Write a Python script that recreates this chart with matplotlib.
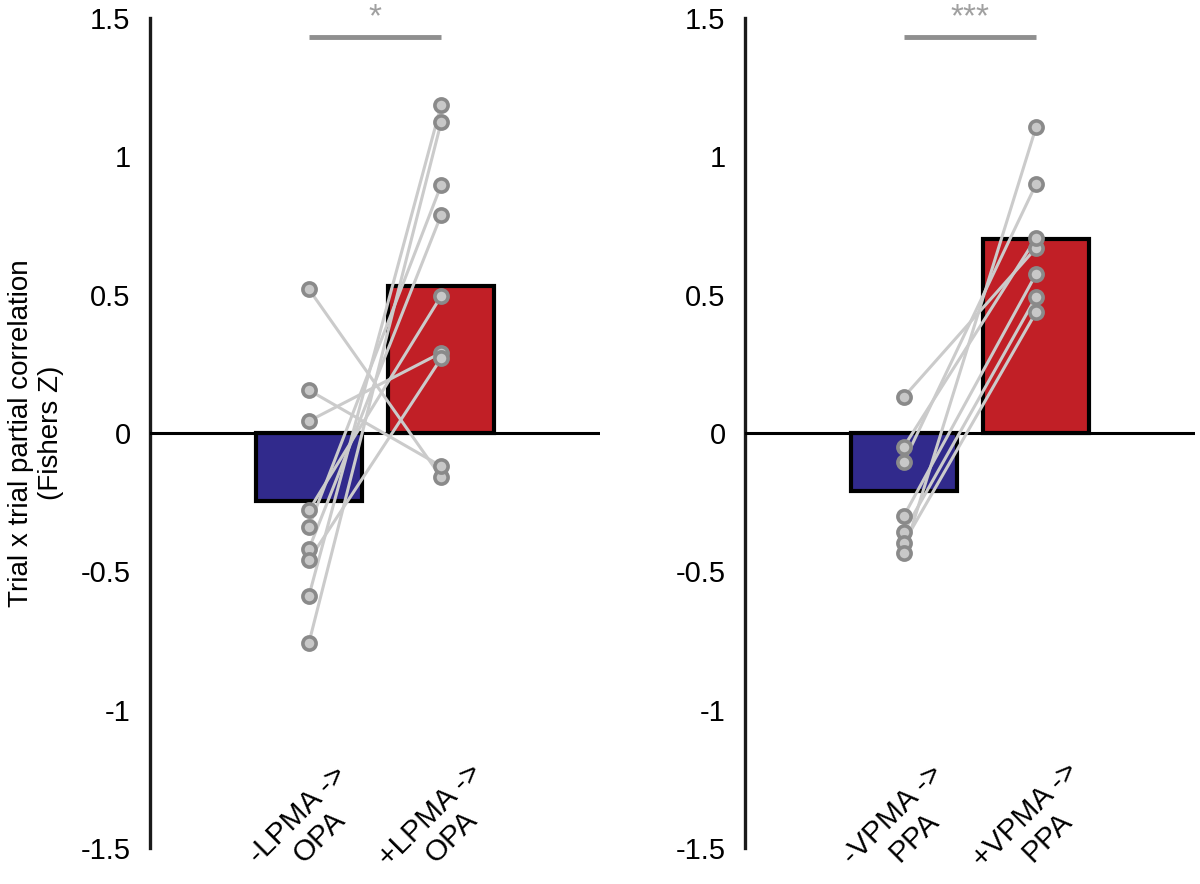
import matplotlib.pyplot as plt

plt.rcParams['font.family'] = ['Liberation Sans', 'DejaVu Sans']

# bar means
lpma_means = [-0.245, 0.53]
vpma_means = [-0.21, 0.70]

# individual subjects (minus, plus), paired by line
lpma_minus = [0.52, 0.155, 0.043, -0.28, -0.34, -0.42, -0.46, -0.59, -0.76]
lpma_plus = [-0.16, -0.12, 0.29, 0.495, 0.896, 0.788, 0.27, 1.185, 1.124]

vpma_minus = [0.13, -0.05, -0.105, -0.30, -0.358, -0.397, -0.434]
vpma_plus = [0.669, 0.705, 0.90, 0.575, 0.492, 0.437, 1.106]

lpma_labels = ['-LPMA ->\nOPA', '+LPMA ->\nOPA']
vpma_labels = ['-VPMA ->\nPPA', '+VPMA ->\nPPA']
stars = ['*', '***']

yticks = [-1.5, -1, -0.5, 0, 0.5, 1, 1.5]
ytick_labels = ['-1.5', '-1', '-0.5', '0', '0.5', '1', '1.5']

blue = '#312a8c'
red = '#c11f26'

fig = plt.figure(figsize=(12, 8.84), dpi=100)
ax1 = fig.add_axes([0.125, 0.0407, 0.375, 0.939])
ax2 = fig.add_axes([0.6208, 0.0407, 0.375, 0.939])

panels = [
    (ax1, lpma_means, lpma_minus, lpma_plus, lpma_labels, stars[0]),
    (ax2, vpma_means, vpma_minus, vpma_plus, vpma_labels, stars[1]),
]

for ax, means, minus, plus, labels, star in panels:
    pos = [1, 2]
    ax.bar(pos, means, width=0.8, color=[blue, red], edgecolor='black',
           linewidth=3, zorder=2)
    ax.axhline(0, color='black', linewidth=2.2, zorder=3)
    for a, b in zip(minus, plus):
        ax.plot(pos, [a, b], color='#cbcbcb', linewidth=2.2, zorder=4)
    for a, b in zip(minus, plus):
        ax.plot(pos, [a, b], linestyle='none', marker='o', markersize=9.5,
                markerfacecolor='#c8c8c8', markeredgecolor='#8a8a8a',
                markeredgewidth=2.6, zorder=5)

    # significance bar
    ax.plot(pos, [1.43, 1.43], color='#8f8f8f', linewidth=3.5,
            solid_capstyle='butt', clip_on=False, zorder=3)
    ax.text(1.5, 1.445, star, ha='center', va='bottom', fontsize=24,
            color='#a0a0a0', clip_on=False)

    # rotated category labels
    for p, lab in zip(pos, labels):
        ax.text(p, -1.42, lab, rotation=45, ha='center', va='center',
                multialignment='center', fontsize=21.5, linespacing=1.1)

    ax.set_xlim(-0.2, 3.2)
    ax.set_ylim(-1.5, 1.5)
    ax.set_xticks([])
    ax.set_yticks(yticks)
    ax.set_yticklabels(ytick_labels, fontsize=21)
    ax.tick_params(axis='y', length=0, pad=14)
    for s in ['top', 'right', 'bottom']:
        ax.spines[s].set_visible(False)
    ax.spines['left'].set_linewidth(2.4)
    ax.spines['left'].set_color('#1a1a1a')

ax1.set_ylabel('Trial x trial partial correlation\n(Fishers Z)', fontsize=20,
               labelpad=12)

fig.savefig('out.png', dpi=100)
